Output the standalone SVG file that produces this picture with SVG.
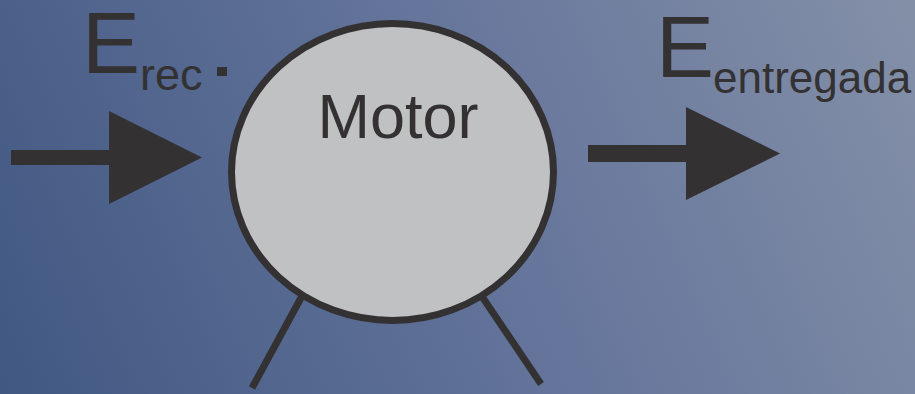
<svg xmlns="http://www.w3.org/2000/svg" width="915" height="394" viewBox="0 0 915 394">
  <defs>
    <linearGradient id="bg" x1="0" y1="394" x2="915" y2="0" gradientUnits="userSpaceOnUse">
      <stop offset="0" stop-color="#405882"/>
      <stop offset="0.5" stop-color="#63739a"/>
      <stop offset="1" stop-color="#8490a8"/>
    </linearGradient>
    <style>
      .ink { fill: #333132; }
      .txt { font-family: "Liberation Sans", Arial, sans-serif; fill: #333132; }
      .leg { stroke: #333132; stroke-width: 7; fill: none; }
    </style>
  </defs>
  <rect x="0" y="0" width="915" height="394" fill="url(#bg)"/>

  <g id="labels">
    <text class="txt" x="82" y="73" font-size="87">E</text>
    <text class="txt" x="140" y="90" font-size="45">rec</text>
    <rect class="ink" x="217" y="67" width="10" height="9"/>
    <text class="txt" x="656" y="77" font-size="87">E</text>
    <text class="txt" x="713" y="93" font-size="44">entregada</text>
  </g>

  <g id="motor">
    <line class="leg" x1="302" y1="296" x2="252" y2="388"/>
    <line class="leg" x1="483" y1="298" x2="541" y2="384"/>
    <ellipse cx="392.5" cy="172" rx="161" ry="148.5" fill="#c0c1c3" stroke="#333132" stroke-width="7"/>
    <text class="txt" x="398" y="138" font-size="63" text-anchor="middle">Motor</text>
  </g>

  <g id="connectors">
    <g id="arrow-in">
      <rect class="ink" x="11" y="150" width="100" height="15"/>
      <polygon class="ink" points="109,111 202,157.5 109,204"/>
    </g>
    <g id="arrow-out">
      <rect class="ink" x="588" y="145" width="100" height="17"/>
      <polygon class="ink" points="686,107 780,153.5 686,200"/>
    </g>
  </g>
</svg>
